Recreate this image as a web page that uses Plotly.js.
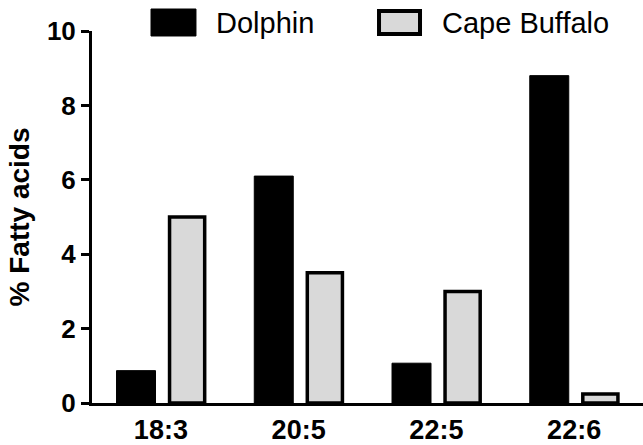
<!DOCTYPE html>
<html>
<head>
<meta charset="utf-8">
<script src="https://cdn.plot.ly/plotly-3.0.1.min.js"></script>
<style>html,body{margin:0;padding:0;background:#fff}#chart{width:643px;height:445px}</style>
</head>
<body>
<div id="chart"></div>
<script>
const categories = ["18:3", "20:5", "22:5", "22:6"];
const dolphin = [0.87, 6.1, 1.07, 8.8];
const capeBuffalo = [5.0, 3.5, 3.0, 0.24];
const yTicks = [0, 2, 4, 6, 8, 10];
const seriesNames = ["Dolphin", "Cape Buffalo"];

const FONT = "Liberation Sans, Arial, Helvetica, sans-serif";

const traces = [
  {
    type: "bar", name: seriesNames[0], x: categories, y: dolphin,
    width: 0.283, offset: -0.322,
    marker: {color: "#000000", line: {color: "#000000", width: 1}},
    showlegend: false
  },
  {
    type: "bar", name: seriesNames[1], x: categories, y: capeBuffalo,
    width: 0.255, offset: 0.063,
    marker: {color: "#d9d9d9", line: {color: "#000000", width: 3.5}},
    showlegend: false
  }
];

const layout = {
  width: 643, height: 445,
  margin: {l: 92, r: 0, t: 31, b: 42, pad: 0},
  paper_bgcolor: "#ffffff", plot_bgcolor: "#ffffff",
  barmode: "group",
  font: {family: FONT, color: "#000000"},
  xaxis: {
    type: "category",
    range: [-0.5, 3.5],
    showline: true, linecolor: "#000000", linewidth: 3,
    ticks: "", showgrid: false, zeroline: false,
    tickfont: {family: FONT, size: 27, color: "#000000", weight: "bold"},
    ticklabelstandoff: 1,
    fixedrange: true
  },
  yaxis: {
    range: [0, 10],
    tickvals: yTicks,
    ticktext: yTicks.map(String),
    showline: true, linecolor: "#000000", linewidth: 3,
    ticks: "outside", ticklen: 8, tickwidth: 3, tickcolor: "#000000",
    showgrid: false, zeroline: false,
    tickfont: {family: FONT, size: 26, color: "#000000", weight: "bold"},
    ticklabelstandoff: 0,
    title: {text: "% Fatty acids", font: {family: FONT, size: 28, color: "#000000", weight: "bold"}, standoff: 10},
    automargin: false,
    fixedrange: true
  },
  shapes: [
    {type: "rect", xref: "paper", yref: "paper", x0: 0.1071, x1: 0.1887, y0: 0.9866, y1: 1.0591,
     fillcolor: "#000000", line: {color: "#000000", width: 1}},
    {type: "rect", xref: "paper", yref: "paper", x0: 0.5209, x1: 0.5953, y0: 0.9919, y1: 1.0538,
     fillcolor: "#d9d9d9", line: {color: "#000000", width: 4}}
  ],
  annotations: [
    {xref: "paper", yref: "paper", x: 0.222, y: 1.0228, xanchor: "left", yanchor: "middle",
     text: seriesNames[0], showarrow: false, font: {family: FONT, size: 29, color: "#000000"}},
    {xref: "paper", yref: "paper", x: 0.632, y: 1.0228, xanchor: "left", yanchor: "middle",
     text: seriesNames[1], showarrow: false, font: {family: FONT, size: 29, color: "#000000"}}
  ],
  showlegend: false
};

Plotly.newPlot("chart", traces, layout, {displayModeBar: false, staticPlot: true});
</script>
</body>
</html>
